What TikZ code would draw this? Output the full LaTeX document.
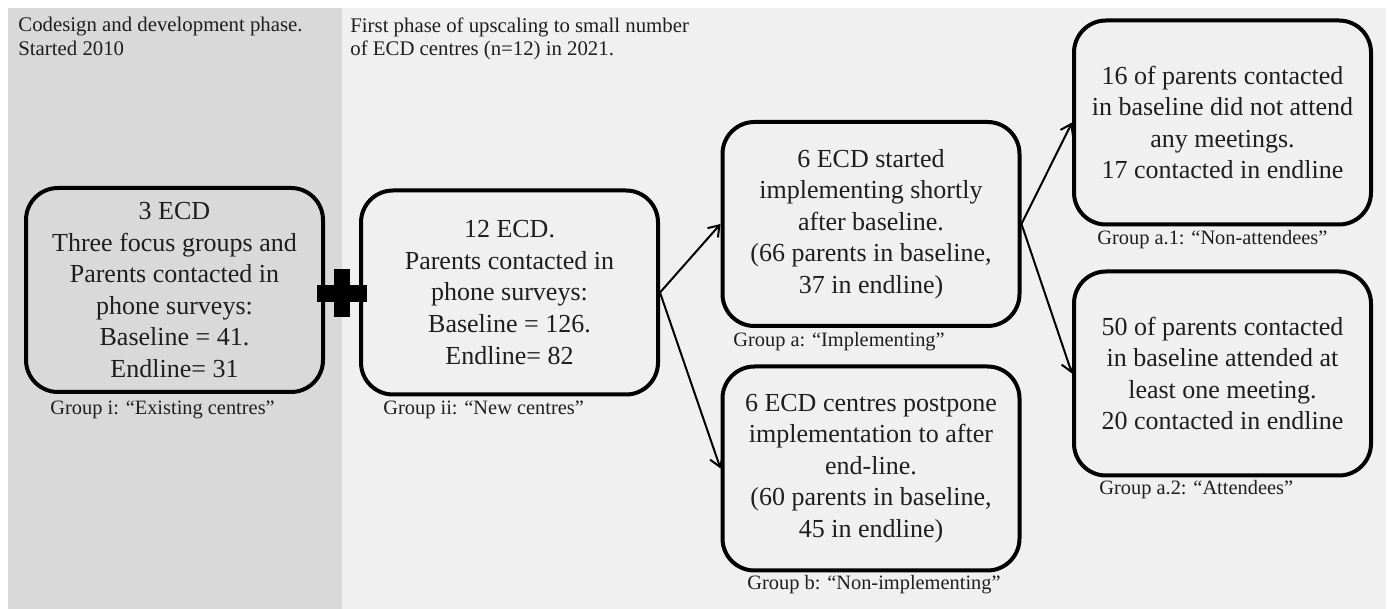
\documentclass[tikz,border=0pt]{standalone}
\usepackage{fontspec}
\setmainfont{Liberation Serif}
\usepackage{tikz}
\usetikzlibrary{arrows.meta}

\definecolor{phaseone}{HTML}{D9D9D9}
\definecolor{phasetwo}{HTML}{F0F0F0}
\definecolor{inktext}{HTML}{1E1E1E}

\tikzset{
  groupbox/.style={draw=black, line width=2pt, rounded corners=16pt,
    minimum width=148.5pt, minimum height=102pt, inner sep=2pt,
    align=center, text=inktext, font=\fontsize{13}{15.8}\selectfont},
  grouplabel/.style={anchor=west, inner sep=0pt, text=inktext,
    font=\fontsize{10.2}{12}\selectfont},
  phasetext/.style={anchor=north west, inner sep=0pt, align=left, text=inktext,
    font=\fontsize{10.4}{11.6}\selectfont},
  flow/.style={line width=1pt, -{Straight Barb[length=5pt,width=7pt]}}
}

\begin{document}
\begin{tikzpicture}[x=0.5pt,y=-0.5pt]
\useasboundingbox (0,0) rectangle (1389,609);
\fill[white] (0,0) rectangle (1389,609);

% the two phases
\fill[phasetwo] (8,8) rectangle (1386,609);
\fill[phaseone] (8,8) rectangle (342,609);
\node[phasetext] (phaseonetxt) at (18,17) {Codesign and development phase.\\Started 2010};
\node[phasetext] (phasetwotxt) at (350,17) {First phase of upscaling to small number\\of ECD centres (n=12) in 2021.};

% groups
\node[groupbox] (gri) at (174.5,290) {3 ECD\\Three focus groups and\\Parents contacted in\\phone surveys:\\Baseline = 41.\\Endline= 31};
\node[groupbox] (grii) at (509.5,292.5) {12 ECD.\\Parents contacted in\\phone surveys:\\Baseline = 126.\\Endline= 82};
\node[groupbox] (gra) at (871,224) {6 ECD started\\implementing shortly\\after baseline.\\(66 parents in baseline,\\37 in endline)};
\node[groupbox] (grb) at (871,468.5) {6 ECD centres postpone\\implementation to after\\end-line.\\(60 parents in baseline,\\45 in endline)};
\node[groupbox] (graone) at (1222.5,122.5) {16 of parents contacted\\in baseline did not attend\\any meetings.\\17 contacted in endline};
\node[groupbox] (gratwo) at (1222.5,373.5) {50 of parents contacted\\in baseline attended at\\least one meeting.\\20 contacted in endline};

\node[grouplabel] (lbli) at (50,410) {Group i: ``Existing centres''};
\node[grouplabel] (lblii) at (383,410) {Group ii: ``New centres''};
\node[grouplabel] (lbla) at (733,342) {Group a: ``Implementing''};
\node[grouplabel] (lblb) at (747,585) {Group b: ``Non-implementing''};
\node[grouplabel] (lblaone) at (1097,240) {Group a.1: ``Non-attendees''};
\node[grouplabel] (lblatwo) at (1099,490) {Group a.2: ``Attendees''};

% plus between the phases
\fill[black] (334,269) rectangle (350,317);
\fill[black] (317,285) rectangle (367,302);

\draw[flow] (grii.east) -- (gra.west);
\draw[flow] (grii.east) -- (grb.west);
\draw[flow] (gra.east) -- (graone.west);
\draw[flow] (gra.east) -- (gratwo.west);

\end{tikzpicture}
\end{document}
